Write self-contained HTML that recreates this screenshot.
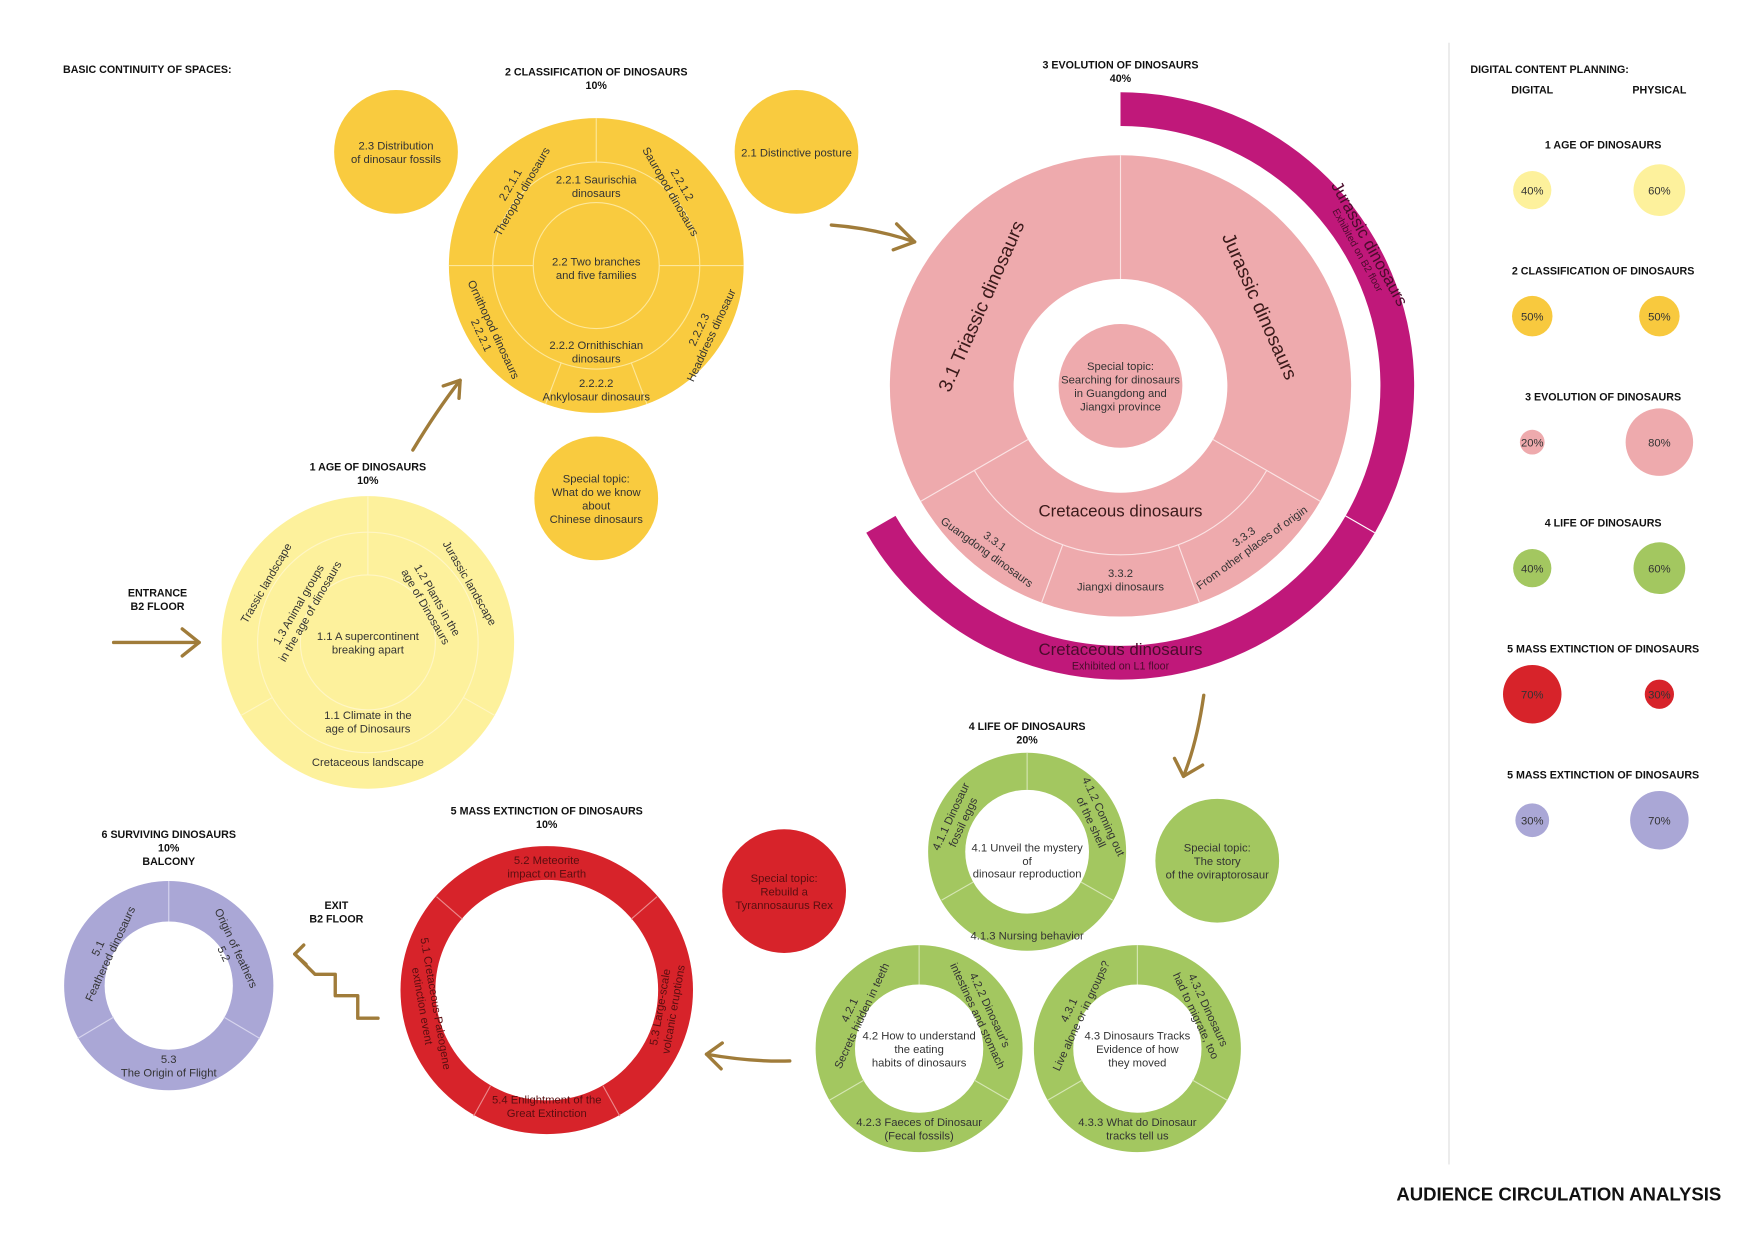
<!DOCTYPE html>
<html><head><meta charset="utf-8"><style>
html,body{margin:0;padding:0;background:#fff;}
svg{display:block;}
text{font-family:"Liberation Sans",sans-serif;fill:#333;}
.h{font-weight:bold;font-size:9.5px;fill:#111;}
.s{font-size:10px;text-anchor:middle;}
.c{text-anchor:middle;}
</style></head><body>
<svg width="1755" height="1241" viewBox="0 0 1560 1103" preserveAspectRatio="none" xmlns="http://www.w3.org/2000/svg">
<rect width="1560" height="1103" fill="#fff"/>

<!-- headings -->
<text class="h" x="56" y="65">BASIC CONTINUITY OF SPACES:</text>
<text class="h c" x="530" y="67">2 CLASSIFICATION OF DINOSAURS</text>
<text class="h c" x="530" y="79">10%</text>
<text class="h c" x="996" y="61">3 EVOLUTION OF DINOSAURS</text>
<text class="h c" x="996" y="73">40%</text>
<text class="h c" x="327" y="418">1 AGE OF DINOSAURS</text>
<text class="h c" x="327" y="430">10%</text>
<text class="h c" x="140" y="530">ENTRANCE</text>
<text class="h c" x="140" y="542">B2 FLOOR</text>
<text class="h c" x="913" y="649">4 LIFE OF DINOSAURS</text>
<text class="h c" x="913" y="661">20%</text>
<text class="h c" x="486" y="724">5 MASS EXTINCTION OF DINOSAURS</text>
<text class="h c" x="486" y="736">10%</text>
<text class="h c" x="150" y="745">6 SURVIVING DINOSAURS</text>
<text class="h c" x="150" y="757">10%</text>
<text class="h c" x="150" y="769">BALCONY</text>
<text class="h c" x="299" y="808">EXIT</text>
<text class="h c" x="299" y="820">B2 FLOOR</text>

<!-- right panel -->
<line x1="1288" y1="38" x2="1288" y2="1035" stroke="#ddd" stroke-width="1"/>
<text class="h" x="1307" y="65">DIGITAL CONTENT PLANNING:</text>
<text class="h c" x="1362" y="83">DIGITAL</text>
<text class="h c" x="1475" y="83">PHYSICAL</text>
<g font-size="9">
<text class="h c" x="1425" y="132">1 AGE OF DINOSAURS</text>
<circle cx="1362" cy="169" r="17" fill="#fdf19c"/><circle cx="1475" cy="169" r="23" fill="#fdf19c"/>
<text class="s" x="1362" y="173" font-size="9">40%</text><text class="s" x="1475" y="173" font-size="9">60%</text>
<text class="h c" x="1425" y="244">2 CLASSIFICATION OF DINOSAURS</text>
<circle cx="1362" cy="281" r="18" fill="#f8c93e"/><circle cx="1475" cy="281" r="18" fill="#f8c93e"/>
<text class="s" x="1362" y="285" font-size="9">50%</text><text class="s" x="1475" y="285" font-size="9">50%</text>
<text class="h c" x="1425" y="356">3 EVOLUTION OF DINOSAURS</text>
<circle cx="1362" cy="393" r="11" fill="#eeaaad"/><circle cx="1475" cy="393" r="30" fill="#eeaaad"/>
<text class="s" x="1362" y="397" font-size="9">20%</text><text class="s" x="1475" y="397" font-size="9">80%</text>
<text class="h c" x="1425" y="468">4 LIFE OF DINOSAURS</text>
<circle cx="1362" cy="505" r="17" fill="#a3c760"/><circle cx="1475" cy="505" r="23" fill="#a3c760"/>
<text class="s" x="1362" y="509" font-size="9">40%</text><text class="s" x="1475" y="509" font-size="9">60%</text>
<text class="h c" x="1425" y="580">5 MASS EXTINCTION OF DINOSAURS</text>
<circle cx="1362" cy="617" r="26" fill="#d7232a"/><circle cx="1475" cy="617" r="13" fill="#d7232a"/>
<text class="s" x="1362" y="621" font-size="9">70%</text><text class="s" x="1475" y="621" font-size="9">30%</text>
<text class="h c" x="1425" y="692">5 MASS EXTINCTION OF DINOSAURS</text>
<circle cx="1362" cy="729" r="15" fill="#aaa7d6"/><circle cx="1475" cy="729" r="26" fill="#aaa7d6"/>
<text class="s" x="1362" y="733" font-size="9">30%</text><text class="s" x="1475" y="733" font-size="9">70%</text>
</g>
<text x="1530" y="1067" text-anchor="end" font-size="16.5" font-weight="bold" style="fill:#111">AUDIENCE CIRCULATION ANALYSIS</text>

<!-- arrows -->
<g stroke="#a07c3a" stroke-width="3" fill="none" stroke-linecap="round" stroke-linejoin="round">
<line x1="101" y1="571" x2="177" y2="571"/><polyline points="162,559 177,571 162,583"/>
<path d="M367,400 Q388,365 409,338"/><polyline points="394,343 409,338 408,354"/>
<path d="M739,200 Q778,203 813,215"/><polyline points="797,199 813,215 794,222"/>
<path d="M1070,618 Q1064,660 1052,690"/><polyline points="1044,674 1052,690 1069,680"/>
<path d="M702,943 Q668,944 628,937"/><polyline points="642,927 628,937 641,950"/>
<polyline points="336,905 318,905 318,885 298,885 298,866 280,866 262,848"/>
<polyline points="270,840 262,848 272,857"/>
</g>

<!-- yellow 2 topics -->
<circle cx="352" cy="135" r="55" fill="#f9cb3f"/>
<text class="s" x="352" y="133">2.3 Distribution</text><text class="s" x="352" y="145">of dinosaur fossils</text>
<circle cx="708" cy="135" r="55" fill="#f9cb3f"/>
<text class="s" x="708" y="139">2.1 Distinctive posture</text>
<circle cx="530" cy="443" r="55" fill="#f9cb3f"/>
<text class="s" x="530" y="429">Special topic:</text><text class="s" x="530" y="441">What do we know</text><text class="s" x="530" y="453">about</text><text class="s" x="530" y="465">Chinese dinosaurs</text>

<!-- yellow 2 main -->
<circle cx="530" cy="236" r="131" fill="#f9cb3f"/>
<g stroke="#fde79a" stroke-width="1" fill="none">
<circle cx="530" cy="236" r="92"/><circle cx="530" cy="236" r="56"/>
<line x1="530" y1="105" x2="530" y2="144"/>
<line x1="399" y1="236" x2="474" y2="236"/><line x1="586" y1="236" x2="661" y2="236"/>
<line x1="499" y1="322" x2="485" y2="359"/><line x1="561" y1="322" x2="575" y2="359"/>
</g>
<text class="s" x="530" y="163">2.2.1 Saurischia</text><text class="s" x="530" y="175">dinosaurs</text>
<text class="s" x="530" y="236">2.2 Two branches</text><text class="s" x="530" y="248">and five families</text>
<text class="s" x="530" y="310">2.2.2 Ornithischian</text><text class="s" x="530" y="322">dinosaurs</text>
<text class="s" x="530" y="344">2.2.2.2</text><text class="s" x="530" y="356">Ankylosaur dinosaurs</text>
<g transform="translate(460,168) rotate(-60)"><text class="s" x="0" y="-4">2.2.1.1</text><text class="s" x="0" y="8">Theropod dinosaurs</text></g>
<g transform="translate(600,168) rotate(60)"><text class="s" x="0" y="-4">2.2.1.2</text><text class="s" x="0" y="8">Sauropod dinosaurs</text></g>
<g transform="translate(432,296) rotate(65)"><text class="s" x="0" y="8">2.2.2.1</text><text class="s" x="0" y="-4">Ornithopod dinosaurs</text></g>
<g transform="translate(628,296) rotate(-65)"><text class="s" x="0" y="-4">2.2.2.3</text><text class="s" x="0" y="8">Headdress dinosaur</text></g>

<!-- yellow 1 -->
<circle cx="327" cy="571" r="130" fill="#fdf19c"/>
<g stroke="#fff6c4" stroke-width="1" fill="none">
<circle cx="327" cy="571" r="98"/><circle cx="327" cy="571" r="60"/>
<line x1="327" y1="441" x2="327" y2="511"/>
<line x1="242" y1="620" x2="214" y2="636"/><line x1="412" y1="620" x2="440" y2="636"/>
</g>
<g transform="translate(236,518) rotate(-60)"><text class="s" x="0" y="4">Trassic landscape</text></g>
<g transform="translate(270,540) rotate(-60)"><text class="s" x="0" y="-2">1.3 Animal groups</text><text class="s" x="0" y="10">in the age of dinosaurs</text></g>
<g transform="translate(384,536) rotate(60)"><text class="s" x="0" y="-2">1.2 Plants in the</text><text class="s" x="0" y="10">age of Dinosaurs</text></g>
<g transform="translate(418,518) rotate(60)"><text class="s" x="0" y="4">Jurassic landscape</text></g>
<text class="s" x="327" y="569">1.1 A supercontinent</text><text class="s" x="327" y="581">breaking apart</text>
<text class="s" x="327" y="639">1.1 Climate in the</text><text class="s" x="327" y="651">age of Dinosaurs</text>
<text class="s" x="327" y="681">Cretaceous landscape</text>

<!-- pink -->
<path d="M996,82 A261,261 0 1,1 770,473.5 L796,458.5 A231,231 0 1,0 996,112 Z" fill="#c0187a"/>
<line x1="1196" y1="458.5" x2="1222" y2="473.5" stroke="#fff" stroke-width="1"/>
<circle cx="996" cy="343" r="205" fill="#eeaaad"/>
<circle cx="996" cy="343" r="95" fill="#fff"/>
<circle cx="996" cy="343" r="55" fill="#eeaaad"/>
<g stroke="#fbe3e4" stroke-width="1" fill="none">
<line x1="996" y1="248" x2="996" y2="138"/>
<line x1="914" y1="390.5" x2="818.5" y2="445.5"/><line x1="1078" y1="390.5" x2="1173.5" y2="445.5"/>
<path d="M866,418 A150,150 0 0,0 1126,418"/>
<line x1="944.7" y1="484" x2="925.9" y2="535.6"/><line x1="1047.3" y1="484" x2="1066.1" y2="535.6"/>
</g>
<g transform="translate(872,272) rotate(-66)"><text class="c" x="0" y="6" font-size="17" style="fill:#3a1a1a">3.1 Triassic dinosaurs</text></g>
<g transform="translate(1120,272) rotate(66)"><text class="c" x="0" y="6" font-size="17" style="fill:#3a1a1a">Jurassic dinosaurs</text></g>
<text class="c" x="996" y="459" font-size="15" style="fill:#3a1a1a">Cretaceous dinosaurs</text>
<g transform="translate(880,487) rotate(36)"><text class="s" x="0" y="-4">3.3.1</text><text class="s" x="0" y="8">Guangdong dinosaurs</text></g>
<text class="s" x="996" y="513">3.3.2</text><text class="s" x="996" y="525">Jiangxi dinosaurs</text>
<g transform="translate(1110,483) rotate(-36)"><text class="s" x="0" y="-4">3.3.3</text><text class="s" x="0" y="8">From other places of origin</text></g>
<text class="s" x="996" y="329">Special topic:</text><text class="s" x="996" y="341">Searching for dinosaurs</text><text class="s" x="996" y="353">in Guangdong and</text><text class="s" x="996" y="365">Jiangxi province</text>
<g transform="translate(1213,219) rotate(61)"><text class="c" x="0" y="0" font-size="15" style="fill:#4a0c2c">Jurassic dinosaurs</text><text class="c" x="0" y="10" font-size="9" style="fill:#4a0c2c">Exhibited on B2 floor</text></g>
<text class="c" x="996" y="582" font-size="15" style="fill:#4a0c2c">Cretaceous dinosaurs</text>
<text class="c" x="996" y="595" font-size="9.5" style="fill:#4a0c2c">Exhibited on L1 floor</text>

<!-- green -->
<circle cx="1082" cy="765" r="55" fill="#a3c760"/>
<text class="s" x="1082" y="757">Special topic:</text><text class="s" x="1082" y="769">The story</text><text class="s" x="1082" y="781">of the oviraptorosaur</text>
<circle cx="913" cy="757" r="88" fill="#a3c760"/><circle cx="913" cy="757" r="55" fill="#fff"/>
<circle cx="817" cy="932" r="92" fill="#a3c760"/><circle cx="817" cy="932" r="57" fill="#fff"/>
<circle cx="1011" cy="932" r="92" fill="#a3c760"/><circle cx="1011" cy="932" r="57" fill="#fff"/>
<g stroke="#d5e6b3" stroke-width="1">
<line x1="913" y1="669" x2="913" y2="702"/><line x1="865" y1="784" x2="837" y2="800"/><line x1="961" y1="784" x2="989" y2="800"/>
<line x1="817" y1="840" x2="817" y2="875"/><line x1="768" y1="960" x2="737" y2="978"/><line x1="866" y1="960" x2="897" y2="978"/>
<line x1="1011" y1="840" x2="1011" y2="875"/><line x1="962" y1="960" x2="931" y2="978"/><line x1="1060" y1="960" x2="1091" y2="978"/>
</g>
<text class="s" x="913" y="757">4.1 Unveil the mystery</text><text class="s" x="913" y="769">of</text><text class="s" x="913" y="780">dinosaur reproduction</text>
<g transform="translate(850,728) rotate(-65)"><text class="s" x="0" y="-2">4.1.1 Dinosaur</text><text class="s" x="0" y="10">fossil eggs</text></g>
<g transform="translate(976,728) rotate(65)"><text class="s" x="0" y="-2">4.1.2 Coming out</text><text class="s" x="0" y="10">of the shell</text></g>
<text class="s" x="913" y="835">4.1.3 Nursing behavior</text>
<text class="s" x="817" y="924">4.2 How to understand</text><text class="s" x="817" y="936">the eating</text><text class="s" x="817" y="948">habits of dinosaurs</text>
<g transform="translate(760,900) rotate(-65)"><text class="s" x="0" y="-2">4.2.1</text><text class="s" x="0" y="10">Secrets hidden in teeth</text></g>
<g transform="translate(875,900) rotate(65)"><text class="s" x="0" y="-2">4.2.2 Dinosaur's</text><text class="s" x="0" y="10">intestines and stomach</text></g>
<text class="s" x="817" y="1001">4.2.3 Faeces of Dinosaur</text><text class="s" x="817" y="1013">(Fecal fossils)</text>
<text class="s" x="1011" y="924">4.3 Dinosaurs Tracks</text><text class="s" x="1011" y="936">Evidence of how</text><text class="s" x="1011" y="948">they moved</text>
<g transform="translate(955,900) rotate(-65)"><text class="s" x="0" y="-2">4.3.1</text><text class="s" x="0" y="10">Live alone or in groups?</text></g>
<g transform="translate(1069,900) rotate(65)"><text class="s" x="0" y="-2">4.3.2 Dinosaurs</text><text class="s" x="0" y="10">had to migrate, too</text></g>
<text class="s" x="1011" y="1001">4.3.3 What do Dinosaur</text><text class="s" x="1011" y="1013">tracks tell us</text>

<!-- red -->
<circle cx="697" cy="792" r="55" fill="#d7232a"/>
<g style="font-size:10px"><text class="c" x="697" y="784" style="fill:#5a0e10">Special topic:</text><text class="c" x="697" y="796" style="fill:#5a0e10">Rebuild a</text><text class="c" x="697" y="808" style="fill:#5a0e10">Tyrannosaurus Rex</text></g>
<ellipse cx="486" cy="880" rx="130" ry="128" fill="#d7232a"/>
<ellipse cx="486" cy="880" rx="99" ry="98" fill="#fff"/>
<g stroke="#eb8a8c" stroke-width="1">
<line x1="411" y1="817" x2="388" y2="797"/><line x1="561" y1="817" x2="584" y2="797"/>
<line x1="436" y1="965" x2="421" y2="992"/><line x1="536" y1="965" x2="551" y2="992"/>
</g>
<g style="font-size:10px">
<text class="c" x="486" y="768" style="fill:#5a0e10">5.2 Meteorite</text><text class="c" x="486" y="780" style="fill:#5a0e10">impact on Earth</text>
<text class="c" x="486" y="981" style="fill:#5a0e10">5.4 Enlightment of the</text><text class="c" x="486" y="993" style="fill:#5a0e10">Great Extinction</text>
<g transform="translate(382,893) rotate(80)"><text class="c" x="0" y="-2" style="fill:#5a0e10">5.1 Cretaceous-Paleogene</text><text class="c" x="0" y="10" style="fill:#5a0e10">extinction event</text></g>
<g transform="translate(592,896) rotate(-80)"><text class="c" x="0" y="-2" style="fill:#5a0e10">5.3 Large-scale</text><text class="c" x="0" y="10" style="fill:#5a0e10">volcanic eruptions</text></g>
</g>

<!-- lavender -->
<circle cx="150" cy="876" r="93" fill="#aaa7d6"/>
<circle cx="150" cy="876" r="57" fill="#fff"/>
<g stroke="#d7d5ee" stroke-width="1">
<line x1="150" y1="783" x2="150" y2="819"/><line x1="101" y1="904" x2="69" y2="923"/><line x1="199" y1="904" x2="231" y2="923"/>
</g>
<g transform="translate(92,845) rotate(-65)"><text class="s" x="0" y="-2">5.1</text><text class="s" x="0" y="10">Feathered dinosaurs</text></g>
<g transform="translate(205,845) rotate(65)"><text class="s" x="0" y="10">5.2</text><text class="s" x="0" y="-2">Origin of feathers</text></g>
<text class="s" x="150" y="945">5.3</text><text class="s" x="150" y="957">The Origin of Flight</text>
</svg>
</body></html>
